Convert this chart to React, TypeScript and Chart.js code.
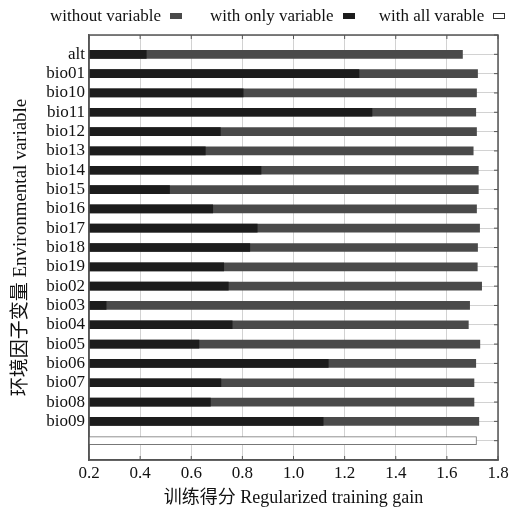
import React, { useEffect, useRef } from "react";
import { Chart, registerables } from "chart.js";

Chart.register(...registerables);

const categories = ["", "alt", "bio01", "bio10", "bio11", "bio12", "bio13", "bio14", "bio15", "bio16", "bio17", "bio18", "bio19", "bio02", "bio03", "bio04", "bio05", "bio06", "bio07", "bio08", "bio09", "", ""];

const withoutVariable = [null, 1.661, 1.72, 1.716, 1.713, 1.716, 1.703, 1.723, 1.723, 1.716, 1.728, 1.72, 1.719, 1.736, 1.689, 1.684, 1.729, 1.713, 1.706, 1.706, 1.725, null, null];

const withOnlyVariable = [null, 0.424, 1.256, 0.803, 1.307, 0.714, 0.655, 0.873, 0.515, 0.684, 0.858, 0.829, 0.727, 0.745, 0.267, 0.76, 0.63, 1.136, 0.716, 0.675, 1.116, null, null];

const withAllVariable = [null, null, null, null, null, null, null, null, null, null, null, null, null, null, null, null, null, null, null, null, null, 1.716, null];

const legendLabels = ["without variable", "with only variable", "with all varable"];
const xTitle = "训练得分 Regularized training gain";
const yTitle = "环境因子变量 Environmental variable";

const FONT = "'Liberation Serif', 'Noto Sans CJK SC', serif";
const GRAY = "#4a4a4a";
const BLACK = "#1c1c1c";

const framePlugin = {
  id: "frame",
  afterDraw(chart: any) {
    const { ctx, chartArea: a, scales } = chart;
    ctx.save();
    ctx.strokeStyle = "#555";
    ctx.lineWidth = 1.5;
    ctx.strokeRect(a.left, a.top, a.right - a.left, a.bottom - a.top);
    ctx.lineWidth = 1;
    ctx.beginPath();
    scales.x.ticks.forEach((t: any) => {
      const px = scales.x.getPixelForValue(t.value);
      ctx.moveTo(px, a.top);
      ctx.lineTo(px, a.top + 4);
      ctx.moveTo(px, a.bottom);
      ctx.lineTo(px, a.bottom - 4);
    });
    scales.y.ticks.forEach((t: any, i: number) => {
      const py = scales.y.getPixelForTick(i);
      ctx.moveTo(a.right, py);
      ctx.lineTo(a.right - 4, py);
    });
    ctx.stroke();
    ctx.restore();
  },
};

export default function App() {
  const ref = useRef<HTMLCanvasElement>(null);
  useEffect(() => {
    const chart = new Chart(ref.current!, {
      type: "bar",
      data: {
        labels: categories,
        datasets: [
          { label: legendLabels[0], data: withoutVariable, backgroundColor: GRAY, grouped: false, order: 1, barThickness: 8 } as any,
          { label: legendLabels[1], data: withOnlyVariable, backgroundColor: BLACK, grouped: false, order: 0, barThickness: 8 } as any,
          { label: legendLabels[2], data: withAllVariable, backgroundColor: "#ffffff", borderColor: "#777", borderWidth: 1, borderSkipped: false, grouped: false, order: 2, barThickness: 8 } as any,
        ],
      },
      options: {
        indexAxis: "y",
        responsive: false,
        animation: false,
        layout: { padding: { top: 27, right: 22, left: 0, bottom: 0 } },
        plugins: { legend: { display: false }, tooltip: { enabled: false } },
        scales: {
          x: {
            type: "linear",
            min: 0.2,
            max: 1.8,
            ticks: {
              stepSize: 0.2,
              callback: (v: any) => Number(v).toFixed(1),
              font: { family: FONT, size: 17 },
              color: "#111",
              padding: 3,
            },
            grid: { color: "#d2d2d2", drawTicks: false },
            border: { color: "#555", width: 1.5 },
            title: { display: true, text: xTitle, font: { family: FONT, size: 18 }, color: "#111", padding: { top: 0, bottom: 0 } },
            afterFit: (s: any) => { s.height = 49; },
          },
          y: {
            type: "category",
            offset: false,
            ticks: { font: { family: FONT, size: 17 }, color: "#111", padding: 4, autoSkip: false },
            grid: { color: "#d2d2d2", drawTicks: false, offset: false },
            border: { color: "#555", width: 1.5 },
            title: { display: true, text: yTitle, font: { family: FONT, size: 19 }, color: "#111", padding: { top: 2, bottom: 2 } },
            afterFit: (s: any) => { s.width = 81; },
          },
        },
      } as any,
      plugins: [framePlugin],
    });
    return () => chart.destroy();
  }, []);

  const box = (bg: string, border: string) => (
    <span style={{ display: "inline-block", width: 12, height: 6, background: bg, border: `1px solid ${border}`, boxSizing: "border-box", marginLeft: 9 }} />
  );

  return (
    <div style={{ position: "relative", width: 512, height: 501 }}>
      <div style={{ position: "absolute", top: 0, left: 42, height: 16, lineHeight: "16px", fontFamily: FONT, fontSize: 17, color: "#111", whiteSpace: "nowrap", display: "flex", alignItems: "center" }}>
        <span>{legendLabels[0]}</span>
        {box(GRAY, GRAY)}
        <span style={{ marginLeft: 28 }}>{legendLabels[1]}</span>
        {box(BLACK, BLACK)}
        <span style={{ marginLeft: 24 }}>{legendLabels[2]}</span>
        {box("#fff", "#333")}
      </div>
      <canvas ref={ref} width={512} height={501} style={{ display: "block" }} />
    </div>
  );
}
